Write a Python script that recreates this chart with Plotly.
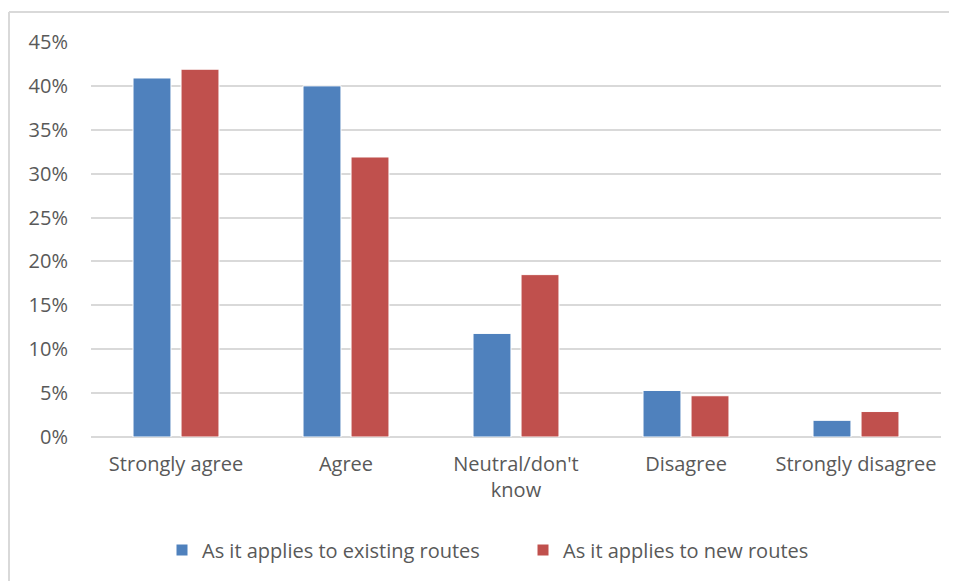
import plotly.graph_objects as go

categories = ["Strongly agree", "Agree", "Neutral/don't<br>know", "Disagree", "Strongly disagree"]
existing_routes = [0.409, 0.400, 0.118, 0.053, 0.019]
new_routes = [0.419, 0.319, 0.185, 0.047, 0.029]
series_names = ["As it applies to existing routes", "As it applies to new routes"]
y_ticks = [0, 0.05, 0.10, 0.15, 0.20, 0.25, 0.30, 0.35, 0.40, 0.45]
y_tick_labels = ["0%", "5%", "10%", "15%", "20%", "25%", "30%", "35%", "40%", "45%"]

FONT = "Open Sans"
FS = 20
TXT = "#595959"
GRID = "#D9D9D9"

fig = go.Figure()
fig.add_trace(go.Bar(x=categories, y=existing_routes, name=series_names[0],
                     marker=dict(color="#4F81BD", line=dict(color="white", width=1))))
fig.add_trace(go.Bar(x=categories, y=new_routes, name=series_names[1],
                     marker=dict(color="#C0504D", line=dict(color="white", width=1))))

# page has an 8px body margin; figure coordinates are screen - 8
OFF = 8
W, H = 957 - OFF, 581 - OFF
L, R, T, B = 91 - OFF, W - (941 - OFF), 42 - OFF, H - (437 - OFF)
pw = W - L - R
ph = H - T - B

def px_x(x):
    return (x - OFF - L) / pw

def px_y(y):
    return (H - B - (y - OFF)) / ph

fig.update_layout(
    width=W, height=H,
    margin=dict(l=L, r=R, t=T, b=B, pad=0),
    paper_bgcolor="white", plot_bgcolor="white",
    barmode="group", bargap=0.435, bargroupgap=0.21,
    font=dict(family=FONT, size=FS, color=TXT),
    showlegend=True,
    legend=dict(orientation="h", x=px_x(162), xanchor="left", y=px_y(550), yanchor="middle",
                font=dict(family=FONT, size=FS, color=TXT), entrywidth=316, entrywidthmode="pixels",
                itemwidth=30, bgcolor="rgba(0,0,0,0)"),
    xaxis=dict(showgrid=False, showline=False, zeroline=False, ticks="",
               tickfont=dict(family=FONT, size=FS, color=TXT), ticklabelstandoff=13),
    yaxis=dict(range=[0, 0.45], tickvals=y_ticks, ticktext=y_tick_labels,
               showgrid=True, gridcolor=GRID, gridwidth=1.5, zeroline=True, zerolinecolor=GRID,
               zerolinewidth=1.5, showline=False, ticks="",
               tickfont=dict(family=FONT, size=FS, color=TXT), ticklabelstandoff=22),
    shapes=[
        dict(type="line", xref="paper", yref="paper", x0=px_x(9), x1=px_x(960), y0=px_y(12), y1=px_y(12),
             line=dict(color=GRID, width=2)),
        dict(type="line", xref="paper", yref="paper", x0=px_x(9), x1=px_x(9), y0=px_y(12), y1=px_y(590),
             line=dict(color=GRID, width=2)),
    ],
)

fig.write_html("out.html")
